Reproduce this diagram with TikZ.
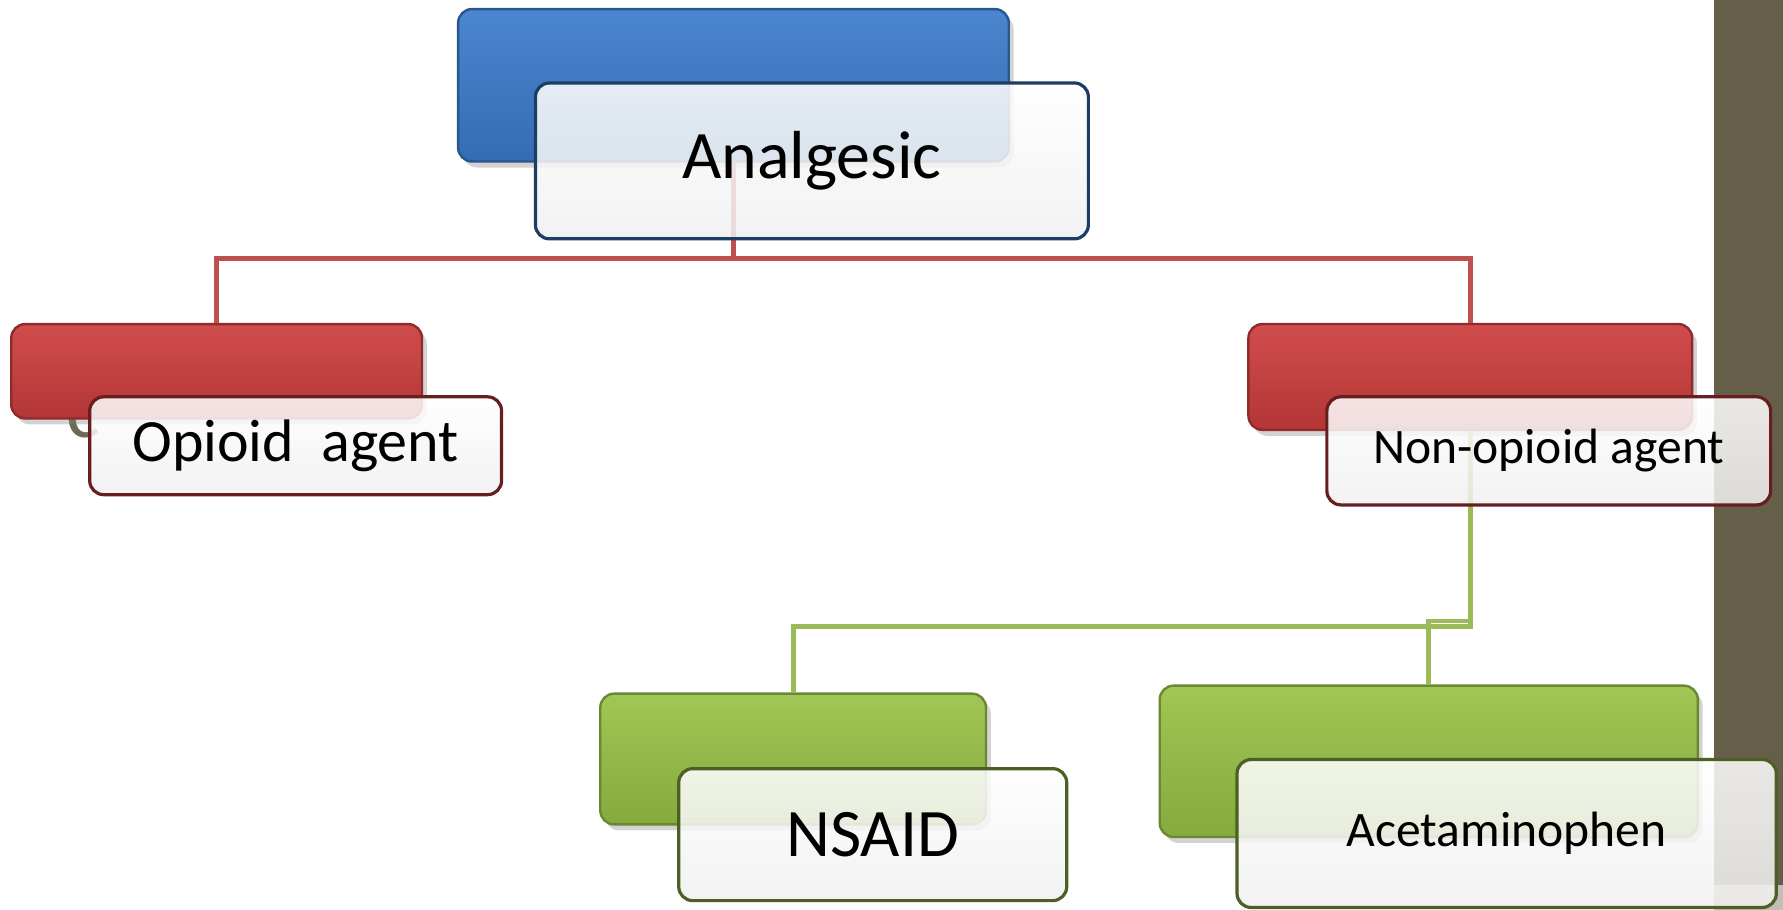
\documentclass[tikz,border=0pt]{standalone}
\usepackage{fontspec}
\setmainfont{Carlito}
\usetikzlibrary{shadows}
\definecolor{bandbrown}{HTML}{655E48}
\definecolor{boxblue}{HTML}{3C7BCB}
\definecolor{boxred}{HTML}{CC3D3D}
\definecolor{boxgreen}{HTML}{98C146}
\definecolor{linered}{HTML}{C0504D}
\definecolor{linegreen}{HTML}{9BBB59}
\definecolor{ghost}{HTML}{6E6855}

\begin{document}
\begin{tikzpicture}[x=0.01cm, y=-0.01cm,
  backbox/.style={rounded corners=3.5pt, draw=#1!70!black, line width=0.6pt, inner sep=0pt,
    top color=#1!92!white, bottom color=#1!88!black,
    drop shadow={shadow xshift=1.2pt, shadow yshift=-1.5pt, opacity=.35}},
  frontbox/.style={rounded corners=3.5pt, draw=#1!50!black, line width=0.8pt, inner sep=0pt,
    top color=white, bottom color=black!6, fill opacity=.86, text opacity=1},
  tree/.style={line width=1.2pt, draw=#1}]
\useasboundingbox (0,0) rectangle (1568,800);
\fill[bandbrown] (1507,0) rectangle (1568,778);
\fill[bandbrown!40] (1507,778) rectangle (1568,800);
\node[anchor=base west, text=ghost, font=\fontsize{20}{24}\selectfont] (cls) at (46,385) {c};

% coloured boxes
\node[backbox=boxblue, minimum width=4.84cm, minimum height=1.34cm] (analgesicbg) at (645,75) {};
\node[backbox=boxred, minimum width=3.61cm, minimum height=0.83cm] (opioidbg) at (190.5,326.5) {};
\node[backbox=boxred, minimum width=3.90cm, minimum height=0.93cm] (nonopioidbg) at (1293,331.5) {};
\node[backbox=boxgreen, minimum width=3.39cm, minimum height=1.15cm] (nsaidbg) at (697.5,667.5) {};
\node[backbox=boxgreen, minimum width=4.73cm, minimum height=1.33cm] (acetbg) at (1256.5,669.5) {};

% tree lines
\draw[tree=linered] (analgesicbg.south) -- ++(0,84) -| (opioidbg.north);
\draw[tree=linered] (analgesicbg.south) -- ++(0,84) -| (nonopioidbg.north);
\draw[tree=linegreen] (nonopioidbg.south) -- ++(0,172) -| (nsaidbg.north);
\draw[tree=linegreen] (nonopioidbg.south) -- ++(0,167) -| (acetbg.north);

% label boxes
\node[frontbox=boxblue, minimum width=4.86cm, minimum height=1.37cm, font=\fontsize{17}{20}\selectfont] (analgesic) at (714,141.5) {Analgesic};
\node[frontbox=boxred, minimum width=3.62cm, minimum height=0.86cm, font=\fontsize{15}{18}\selectfont] (opioid) at (260,392) {Opioid\ \ agent};
\node[frontbox=boxred, minimum width=3.90cm, minimum height=0.95cm, font=\fontsize{12.4}{15}\selectfont] (nonopioid) at (1362,396.5) {Non-opioid agent};
\node[frontbox=boxgreen, minimum width=3.41cm, minimum height=1.16cm, font=\fontsize{17}{20}\selectfont] (nsaid) at (767.5,734) {NSAID};
\node[frontbox=boxgreen, minimum width=4.74cm, minimum height=1.30cm, font=\fontsize{12.4}{15}\selectfont] (acet) at (1325,733) {Acetaminophen};
\end{tikzpicture}
\end{document}
